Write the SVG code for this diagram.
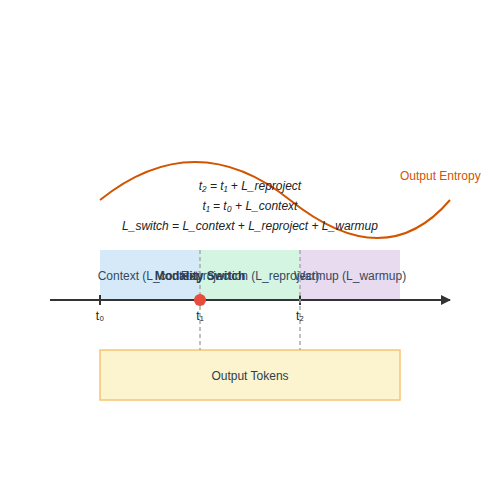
<svg xmlns="http://www.w3.org/2000/svg" width="500" height="500" viewBox="0 0 500 500">
<defs>
<style>
text{font-family:"Liberation Sans",Arial,sans-serif;font-size:12px}
.eq{font-style:italic;fill:#222;text-anchor:middle}
.seg{fill:#34495e;text-anchor:middle}
.tick{fill:#222;text-anchor:middle}
.dash{stroke:#aaa;stroke-width:1.5;stroke-dasharray:4,3;fill:none}
</style>
<marker id="arr" markerWidth="10" markerHeight="10" refX="9" refY="5" orient="auto" markerUnits="userSpaceOnUse">
<path d="M0,0 L10,5 L0,10 Z" fill="#333"/>
</marker>
</defs>
<rect width="500" height="500" fill="#fff"/>
<g id="segments">
<rect x="100" y="250" width="100" height="50" fill="#d6e9f8"/>
<rect x="200" y="250" width="100" height="50" fill="#d5f5e3"/>
<rect x="300" y="250" width="100" height="50" fill="#e8daef"/>
<text class="seg" x="150" y="280">Context (L_context)</text>
<text class="seg" x="250" y="280">Reprojection (L_reproject)</text>
<text class="seg" x="350" y="280">Warmup (L_warmup)</text>
</g>
<g id="tokens">
<rect x="100" y="350" width="300" height="50" fill="#fcf3cf" stroke="#f8c471" stroke-width="1.5"/>
<text x="250" y="380" fill="#2c3e50" text-anchor="middle">Output Tokens</text>
</g>
<g id="connectors">
<line x1="50" y1="300" x2="450" y2="300" stroke="#333" stroke-width="2" marker-end="url(#arr)"/>
<line x1="100" y1="295" x2="100" y2="305" stroke="#333" stroke-width="2"/>
<line x1="200" y1="295" x2="200" y2="305" stroke="#333" stroke-width="2"/>
<line x1="300" y1="295" x2="300" y2="305" stroke="#333" stroke-width="2"/>
<line class="dash" x1="200" y1="250" x2="200" y2="350"/>
<line class="dash" x1="300" y1="250" x2="300" y2="350"/>
</g>
<g id="switch">
<circle cx="200" cy="300" r="6" fill="#e74c3c"/>
<text x="200" y="280" fill="#2c3e50" font-weight="bold" text-anchor="middle">Modality Switch</text>
</g>
<g id="ticks">
<text class="tick" x="100" y="320">t₀</text>
<text class="tick" x="200" y="320">t₁</text>
<text class="tick" x="300" y="320">t₂</text>
</g>
<g id="entropy">
<path d="M100,200 Q195,124 290,200 T450,200" fill="none" stroke="#d35400" stroke-width="2"/>
<text x="400" y="180" fill="#d35400">Output Entropy</text>
</g>
<g id="equations">
<text class="eq" x="250" y="190">t₂ = t₁ + L_reproject</text>
<text class="eq" x="250" y="210">t₁ = t₀ + L_context</text>
<text class="eq" x="250" y="230">L_switch = L_context + L_reproject + L_warmup</text>
</g>
</svg>
